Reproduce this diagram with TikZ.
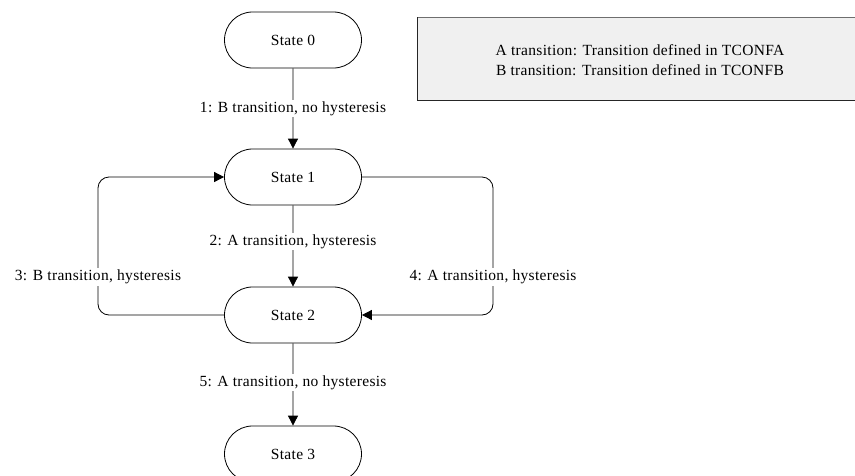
\documentclass[tikz,border=0pt]{standalone}
\usepackage{fontspec}
\setmainfont{Liberation Serif}[LetterSpace=2]
\usetikzlibrary{shapes.misc,arrows.meta}
\begin{document}
\begin{tikzpicture}[x=1pt,y=-1pt,
  statebox/.style={rounded rectangle, draw=black, line width=0.8pt, fill=white,
    minimum width=137pt, minimum height=56pt, inner sep=0pt,
    font=\fontsize{15.5}{18}\selectfont},
  conn/.style={draw=black, line width=0.8pt},
  arr/.style={conn, -{Triangle[length=10pt,width=10pt]}},
  lbl/.style={fill=white, inner sep=1.5pt, font=\fontsize{15.5}{18}\selectfont}
]
\useasboundingbox (0,0) rectangle (855,475);
\clip (0,0) rectangle (855,475);
% legend
\node[draw=none, fill={rgb,255:red,240;green,240;blue,240}, minimum width=460pt, minimum height=83pt, anchor=north west, inner sep=0pt] (legend) at (417,17) {};
\draw[line width=0.9pt, draw={rgb,255:red,110;green,110;blue,110}] (legend.north west) -- (legend.north east);
\draw[line width=0.9pt, draw=black!85] (legend.north west) -- (legend.south west) -- (legend.south east);
\node[align=center, font=\fontsize{15.5}{20}\selectfont] (legtext) at (640,60)
  {A transition: Transition defined in TCONFA\\B transition: Transition defined in TCONFB};
% states
\node[statebox] (s0) at (293,40) {State 0};
\node[statebox] (s1) at (293,177) {State 1};
\node[statebox] (s2) at (293,315) {State 2};
\node[statebox] (s3) at (293,454) {State 3};
% corner coordinates
\coordinate (lt) at (98,177);
\coordinate (lb) at (98,315);
\coordinate (rt) at (493,177);
\coordinate (rb) at (493,315);
% connectors
\draw[arr] (s0) -- node[lbl] (l1) {1: B transition, no hysteresis} (s1);
\draw[arr] (s1) -- node[lbl, pos=0.45] (l2) {2: A transition, hysteresis} (s2);
\draw[arr] (s2) -- node[lbl, pos=0.48] (l5) {5: A transition, no hysteresis} (s3);
\draw[arr, rounded corners=11pt] (s2.west) -- (lb) -- (lt) -- (s1.west);
\draw[arr, rounded corners=11pt] (s1.east) -- (rt) -- (rb) -- (s2.east);
\node[lbl] (l3) at (98,277) {3: B transition, hysteresis};
\node[lbl] (l4) at (493,277) {4: A transition, hysteresis};
\end{tikzpicture}
\end{document}
